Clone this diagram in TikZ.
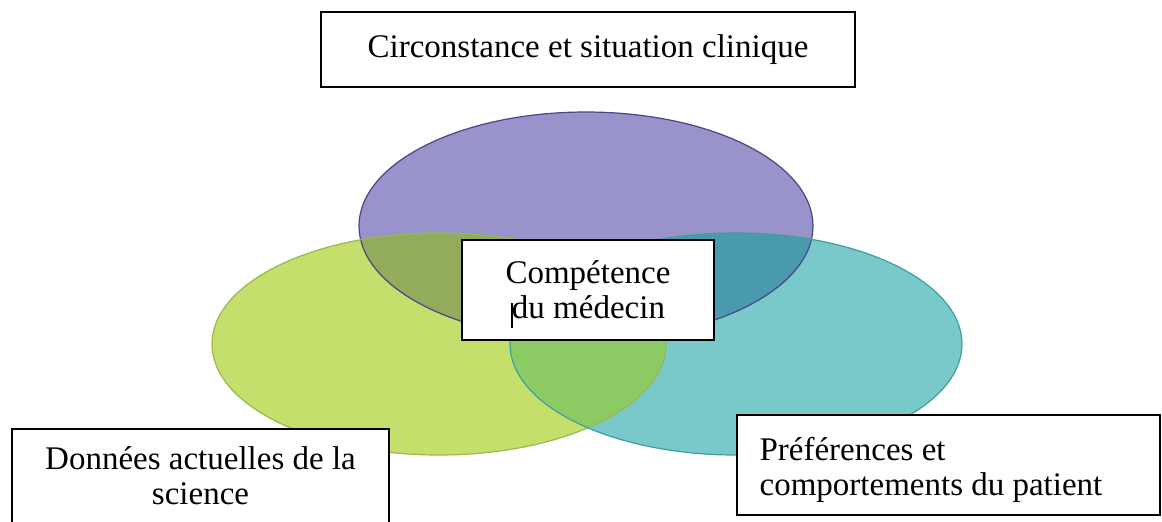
\documentclass[tikz,border=0pt]{standalone}
\usepackage{fontspec}
\setmainfont{Liberation Serif}
\definecolor{Pfill}{HTML}{9893CB}
\definecolor{Gfill}{HTML}{C4DF6C}
\definecolor{Tfill}{HTML}{79C9CA}
\definecolor{PGfill}{HTML}{93AB5C}
\definecolor{PTfill}{HTML}{4A9AAE}
\definecolor{GTfill}{HTML}{8CCB64}
\definecolor{Pline}{HTML}{4B4585}
\definecolor{Gline}{HTML}{9CB84A}
\definecolor{Tline}{HTML}{3D9FA1}
\begin{document}
\begin{tikzpicture}[x=0.5pt,y=-0.5pt,
  labelbox/.style={draw=black, line width=0.8pt, fill=white, inner sep=0pt},
  labeltext/.style={inner sep=0pt, font=\fontsize{16.5}{17.5}\selectfont, align=center},
  ring/.style={line width=0.6pt}]
\useasboundingbox (0,0) rectangle (1162,521);
% the three circles
\def\Pshape{(586,226) ellipse [x radius=113.5pt, y radius=57pt]}
\def\Gshape{(439,344) ellipse [x radius=113.5pt, y radius=55.5pt]}
\def\Tshape{(736,344) ellipse [x radius=113pt, y radius=55.5pt]}
\fill[Pfill] \Pshape;
\fill[Gfill] \Gshape;
\fill[Tfill] \Tshape;
\begin{scope}
  \clip \Pshape;
  \fill[PGfill] \Gshape;
  \fill[PTfill] \Tshape;
\end{scope}
\begin{scope}
  \clip \Gshape;
  \fill[GTfill] \Tshape;
\end{scope}
\draw[ring, Pline] \Pshape;
\draw[ring, Gline] \Gshape;
\draw[ring, Tline] \Tshape;
% label boxes
\node[labelbox, minimum width=267pt, minimum height=37.5pt] (top) at (588,49.5) {};
\node[labelbox, minimum width=126pt, minimum height=50pt] (centre) at (588,290) {};
\node[labelbox, minimum width=188.5pt, minimum height=50.5pt] (left) at (200.5,479.5) {};
\node[labelbox, minimum width=211.5pt, minimum height=50pt] (right) at (948.5,465) {};
% texts
\node[labeltext] (toptext) at (top.center) {Circonstance et situation clinique};
\node[labeltext, yshift=-2pt] (centretext) at (centre.center)
  {Compétence\\\rule[-0.3em]{0.07em}{0.75em}\kern-0.04em du médecin};
\node[labeltext, yshift=2pt] (lefttext) at (left.center)
  {Données actuelles de la\\science};
\node[labeltext, align=left, anchor=west, yshift=-2.5pt] (righttext) at ([xshift=11.5pt]right.west)
  {Préférences et\\comportements du patient};
\end{tikzpicture}
\end{document}
